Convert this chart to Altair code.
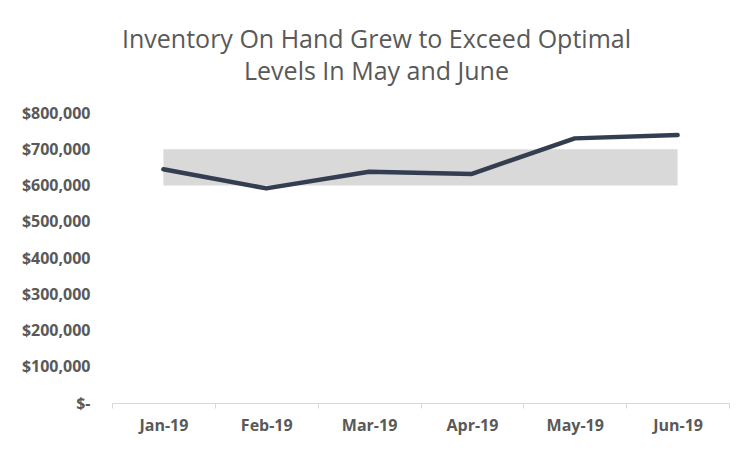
import altair as alt
import pandas as pd

months = ["Jan-19", "Feb-19", "Mar-19", "Apr-19", "May-19", "Jun-19"]
inventory = [645000, 592000, 638000, 632000, 730000, 739000]
optimal_low = [600000, 600000, 600000, 600000, 600000, 600000]
optimal_high = [700000, 700000, 700000, 700000, 700000, 700000]
y_ticks = [0, 100000, 200000, 300000, 400000, 500000, 600000, 700000, 800000]

df = pd.DataFrame({"month": months, "inventory": inventory,
                   "low": optimal_low, "high": optimal_high})

label_font = "Open Sans"
grey = "#595959"

x_enc = alt.X("month:N", sort=months,
              scale=alt.Scale(paddingInner=0, paddingOuter=0),
              axis=alt.Axis(title=None, labelAngle=0, tickBand="extent",
                            domainColor="#D9D9D9", tickColor="#D9D9D9",
                            tickSize=5, labelPadding=9, labelFont=label_font,
                            labelFontSize=16, labelFontWeight="bold",
                            labelColor=grey, grid=False))

y_axis = alt.Axis(title=None, values=y_ticks, domain=False, ticks=False, grid=False,
                  labelExpr="datum.value == 0 ? '$-' : '$' + format(datum.value, ',')",
                  labelPadding=22, labelFont=label_font, labelFontSize=16,
                  labelFontWeight="bold", labelColor=grey)
y_scale = alt.Scale(domain=[0, 800000], nice=False)

band = alt.Chart(df).mark_area(color="#D9D9D9", opacity=1).encode(
    x=x_enc,
    y=alt.Y("low:Q", scale=y_scale, axis=y_axis),
    y2="high:Q",
)

line = alt.Chart(df).mark_line(color="#333F50", strokeWidth=4.5,
                               strokeCap="round", strokeJoin="round").encode(
    x=x_enc,
    y=alt.Y("inventory:Q", scale=y_scale, axis=y_axis),
)

chart = alt.layer(band, line).properties(
    width=617, height=290,
    autosize=alt.AutoSizeParams(type="none"),
    padding={"left": 104, "top": 105, "right": 15, "bottom": 40},
    title=alt.TitleParams(
        ["Inventory On Hand Grew to Exceed Optimal", "Levels In May and June"],
        font="Open Sans", fontSize=25, fontWeight="normal", color=grey,
        anchor="middle", dx=-44, offset=20, lineHeight=32),
).configure_view(stroke=None)

chart.save("out.html", embed_options={"renderer": "svg", "actions": False})
